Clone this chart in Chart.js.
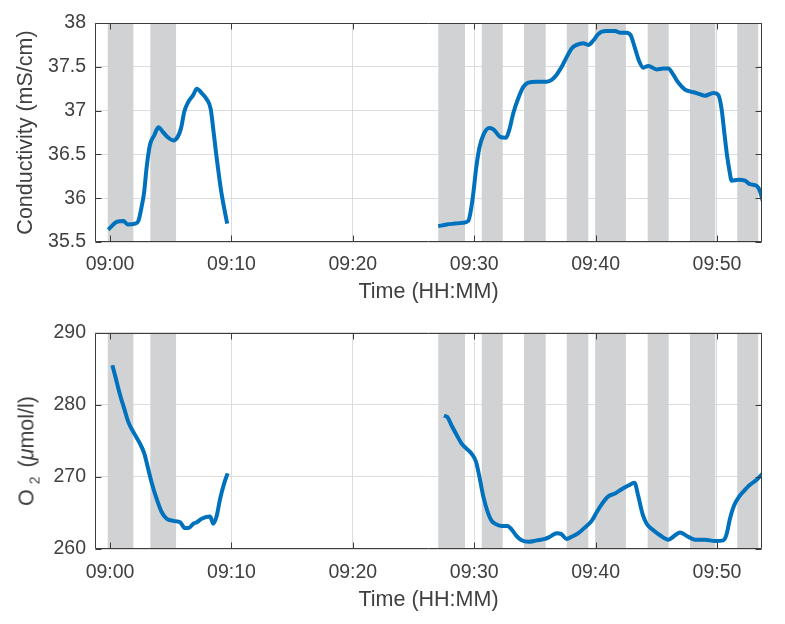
<!DOCTYPE html>
<html>
<head>
<meta charset="utf-8">
<script src="https://cdn.jsdelivr.net/npm/chart.js@4"></script>
<style>
html,body{margin:0;padding:0;background:#fff;}
#wrap{position:relative;width:785px;height:624px;overflow:hidden;}
canvas{position:absolute;left:0;}
#c1{top:0;}
#c2{top:312px;}
#o2label{position:absolute;left:29px;top:451px;transform:translate(-50%,-50%) rotate(-90deg);
  white-space:nowrap;font-family:"Liberation Sans",Arial,sans-serif;font-size:21.5px;color:#404040;line-height:1;}
#o2label sub{font-size:14px;vertical-align:-6px;margin-left:5px;margin-right:3px;}
</style>
</head>
<body>
<div id="wrap">
  <canvas id="c1" width="785" height="312"></canvas>
  <canvas id="c2" width="785" height="312"></canvas>
  <div id="o2label">O<sub>2</sub> (<i>μ</i>mol/l)</div>
</div>
<script>
// ---- data (time in minutes after 09:00) ----
const timeTicks = [0, 10, 20, 30, 40, 50];
const timeTickLabels = ['09:00', '09:10', '09:20', '09:30', '09:40', '09:50'];
const condTicks = [35.5, 36, 36.5, 37, 37.5, 38];
const condTickLabels = ['35.5', '36', '36.5', '37', '37.5', '38'];
const o2Ticks = [260, 270, 280, 290];
const o2TickLabels = ['260', '270', '280', '290'];

const bandStart = [-0.19, 3.32, 27.04, 30.62, 34.10, 37.62, 40.01, 44.29, 47.78, 51.67];
const bandEnd   = [ 1.92, 5.44, 29.24, 32.35, 35.89, 39.40, 42.50, 46.02, 49.86, 53.40];

const condTime1  = [-0.15, 0.55, 1.1, 1.46, 2.06, 2.33, 2.61, 2.8, 3.02, 3.29, 3.65, 3.98, 4.39, 4.8, 5.22, 5.57, 5.85, 6.12, 6.45, 6.86, 7.14, 7.55, 7.96, 8.29, 8.51, 8.73, 8.98, 9.2, 9.65];
const condValue1 = [35.64, 35.73, 35.74, 35.70, 35.71, 35.74, 35.91, 36.06, 36.36, 36.61, 36.72, 36.81, 36.75, 36.69, 36.66, 36.70, 36.80, 36.99, 37.10, 37.18, 37.25, 37.20, 37.13, 37.02, 36.78, 36.52, 36.25, 36.04, 35.71];

const condTime2  = [27.04, 27.73, 28.42, 29.1, 29.51, 29.71, 29.93, 30.15, 30.42, 30.75, 31.25, 31.63, 32.13, 32.62, 32.89, 33.22, 33.63, 34.05, 34.46, 35.15, 35.97, 36.38, 36.79, 37.21, 37.62, 38.03, 38.44, 38.99, 39.4, 39.81, 40.2, 40.5, 40.91, 41.6, 42.01, 42.56, 42.89, 43.25, 43.6, 43.93, 44.34, 45.03, 45.58, 45.99, 46.4, 46.81, 47.36, 47.78, 48.33, 49.01, 49.7, 50.11, 50.39, 50.58, 50.8, 51.01, 51.21, 51.75, 52.31, 52.72, 53.27, 53.54, 53.77];
const condValue2 = [35.68, 35.70, 35.71, 35.72, 35.74, 35.85, 36.06, 36.33, 36.57, 36.72, 36.80, 36.78, 36.70, 36.69, 36.78, 36.97, 37.14, 37.27, 37.32, 37.33, 37.33, 37.35, 37.41, 37.50, 37.61, 37.71, 37.75, 37.77, 37.75, 37.80, 37.87, 37.90, 37.91, 37.91, 37.89, 37.89, 37.86, 37.71, 37.56, 37.49, 37.51, 37.47, 37.48, 37.48, 37.41, 37.32, 37.24, 37.22, 37.20, 37.17, 37.20, 37.18, 37.01, 36.78, 36.52, 36.33, 36.20, 36.21, 36.20, 36.16, 36.14, 36.08, 35.97];

const o2Time1  = [0.19, 0.47, 0.82, 1.18, 1.51, 2.0, 2.47, 2.83, 3.1, 3.43, 3.85, 4.26, 4.67, 5.22, 5.77, 6.18, 6.46, 6.86, 7.14, 7.55, 8.24, 8.51, 8.79, 9.06, 9.42, 9.69];
const o2Value1 = [285.5, 283.7, 281.4, 279.4, 277.6, 276.0, 274.6, 273.2, 271.4, 269.2, 266.9, 265.1, 264.2, 263.9, 263.7, 262.9, 262.9, 263.5, 263.7, 264.2, 264.5, 263.5, 264.6, 266.9, 269.2, 270.5];

const o2Time2  = [27.51, 27.79, 28.15, 28.56, 28.97, 29.38, 29.79, 30.15, 30.42, 30.75, 31.08, 31.44, 31.85, 32.26, 32.73, 33.09, 33.44, 33.91, 34.46, 35.15, 35.83, 36.24, 36.8, 37.15, 37.62, 38.03, 38.58, 39.13, 39.68, 40.09, 40.5, 41.05, 41.6, 42.15, 42.7, 43.2, 43.52, 43.88, 44.21, 44.76, 45.31, 46.0, 46.55, 46.96, 47.51, 48.19, 49.01, 49.84, 50.52, 50.8, 51.07, 51.4, 51.84, 52.31, 52.72, 53.27, 53.77];
const o2Value2 = [278.5, 278.3, 277.1, 275.8, 274.6, 273.9, 273.2, 272.1, 270.1, 267.3, 265.3, 263.9, 263.4, 263.2, 263.2, 262.7, 261.9, 261.2, 261.0, 261.2, 261.4, 261.7, 262.2, 262.1, 261.4, 261.7, 262.2, 263.0, 263.9, 265.1, 266.2, 267.3, 267.7, 268.3, 268.8, 269.2, 267.3, 264.8, 263.5, 262.6, 261.9, 261.3, 261.9, 262.3, 261.8, 261.3, 261.3, 261.1, 261.2, 262.1, 264.2, 266.0, 267.3, 268.2, 268.9, 269.6, 270.5];

const xMin = -1.24, xMax = 53.71;

// ---- styling ----
const TEXT = '#404040';
const FONT = '"Liberation Sans", Arial, sans-serif';
const LINE = '#0072BD';
const BAND = '#D1D2D4';
const GRID = '#DCDCDC';
const BOX = '#3c3c3c';

Chart.defaults.font.family = FONT;
Chart.defaults.color = TEXT;

function pts(t, v) { return t.map((x, i) => ({x: x, y: v[i]})); }

const decor = {
  id: 'decor',
  beforeDatasetsDraw(chart) {
    const {ctx, chartArea: a, scales: {x}} = chart;
    ctx.save();
    ctx.fillStyle = BAND;
    for (let i = 0; i < bandStart.length; i++) {
      const x0 = Math.max(a.left, x.getPixelForValue(bandStart[i]));
      const x1 = Math.min(a.right, x.getPixelForValue(bandEnd[i]));
      ctx.fillRect(x0, a.top, x1 - x0, a.bottom - a.top);
    }
    ctx.restore();
  },
  afterDraw(chart) {
    const {ctx, chartArea: a, scales: {x, y}} = chart;
    const L = Math.round(a.left) + 0.5, R = Math.round(a.right) - 0.5;
    const T = Math.round(a.top) + 0.5, B = Math.round(a.bottom) - 0.5;
    ctx.save();
    ctx.strokeStyle = BOX;
    ctx.lineWidth = 1;
    ctx.beginPath();
    ctx.rect(L, T, R - L, B - T);
    const tl = 6;
    x.ticks.forEach(t => {
      const px = Math.round(x.getPixelForValue(t.value)) + 0.5;
      ctx.moveTo(px, B); ctx.lineTo(px, B - tl);
      ctx.moveTo(px, T); ctx.lineTo(px, T + tl);
    });
    y.ticks.forEach(t => {
      const py = Math.round(y.getPixelForValue(t.value)) + 0.5;
      ctx.moveTo(L, py); ctx.lineTo(L + tl, py);
      ctx.moveTo(R, py); ctx.lineTo(R - tl, py);
    });
    ctx.stroke();
    ctx.restore();
  }
};

function makeChart(id, cfg) {
  const ds = (d) => ({
    data: d, borderColor: LINE, borderWidth: 4, pointRadius: 0,
    cubicInterpolationMode: 'monotone', fill: false
  });
  return new Chart(document.getElementById(id), {
    type: 'line',
    data: { datasets: [ds(cfg.d1), ds(cfg.d2)] },
    plugins: [decor],
    options: {
      responsive: false, animation: false,
      layout: { padding: { left: 0, right: 23, top: cfg.padTop, bottom: 0 } },
      plugins: { legend: { display: false }, tooltip: { enabled: false } },
      scales: {
        x: {
          type: 'linear', min: xMin, max: xMax,
          afterBuildTicks: s => { s.ticks = timeTicks.map(v => ({value: v})); },
          afterFit: s => { s.height = cfg.xHeight; },
          ticks: { callback: (v, i) => timeTickLabels[i], font: { size: 19.5 }, padding: cfg.xTickPad, maxRotation: 0, autoSkip: false },
          grid: { color: GRID, drawTicks: false },
          border: { display: false },
          title: { display: true, text: 'Time (HH:MM)', font: { size: 21.5 }, padding: { top: 0, bottom: cfg.xTitlePad } }
        },
        y: {
          type: 'linear', min: cfg.yMin, max: cfg.yMax,
          afterBuildTicks: s => { s.ticks = cfg.yTicks.map(v => ({value: v})); },
          afterFit: s => { s.width = 95; },
          ticks: { callback: (v, i) => cfg.yLabels[i], font: { size: 19.5 }, padding: 9, autoSkip: false },
          grid: { color: GRID, drawTicks: false },
          border: { display: false },
          title: { display: cfg.yTitle !== '', text: cfg.yTitle, font: { size: 21.5 }, padding: { top: 13.5, bottom: 0 } }
        }
      }
    }
  });
}

makeChart('c1', {
  d1: pts(condTime1, condValue1), d2: pts(condTime2, condValue2),
  padTop: 23, xHeight: 70, xTickPad: 11.3, xTitlePad: 7,
  yMin: 35.5, yMax: 38, yTicks: condTicks, yLabels: condTickLabels,
  yTitle: 'Conductivity (mS/cm)'
});
makeChart('c2', {
  d1: pts(o2Time1, o2Value1), d2: pts(o2Time2, o2Value2),
  padTop: 17, xHeight: 75, xTickPad: 12, xTitlePad: 11,
  yMin: 260, yMax: 290, yTicks: o2Ticks, yLabels: o2TickLabels,
  yTitle: ''
});
</script>
</body>
</html>
